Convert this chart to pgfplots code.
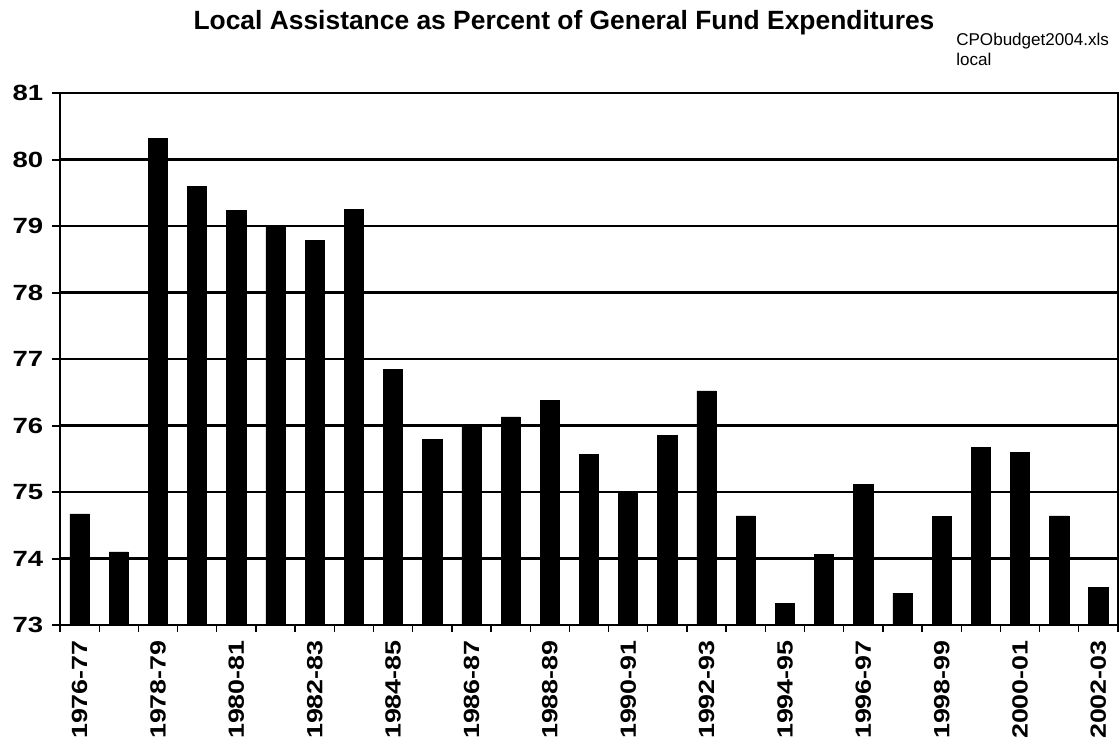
\documentclass[border=0pt]{standalone}
\usepackage{pgfplots}
\pgfplotsset{compat=1.18}
\usepackage{graphicx}
\usepackage{fontspec}
\setmainfont{Liberation Sans}
\pgfplotstableread{
x y
0 74.67
1 74.10
2 80.32
3 79.60
4 79.24
5 79.01
6 78.78
7 79.25
8 76.84
9 75.79
10 76.00
11 76.13
12 76.38
13 75.56
14 75.00
15 75.85
16 76.52
17 74.64
18 73.32
19 74.06
20 75.12
21 73.48
22 74.63
23 75.67
24 75.59
25 74.64
26 73.56
}\datatable
\newcommand{\xl}[1]{\scalebox{1.22}[1]{#1}}
\begin{document}
\begin{tikzpicture}
\useasboundingbox (-45pt,-91.5pt) rectangle (795pt,468.75pt);
\begin{axis}[
  at={(0pt,0pt)}, anchor=south west,
  scale only axis, width=793.5pt, height=399pt,
  xmin=-0.5, xmax=26.5, ymin=73, ymax=81,
  ytick={73,...,81},
  ymajorgrids, major grid style={black, line width=2pt},
  axis line style={black, line width=2pt},
  tick style={black, line width=1pt},
  tick align=outside,
  xtick={0,...,26},
  major x tick style={draw=none},
  minor xtick={-0.5,0.5,...,26.5},
  minor x tick style={black, line width=1pt},
  minor tick length=5pt,
  ytick style={black, line width=1.5pt},
  major tick length=6pt,
  xtick pos=bottom, ytick pos=left,
  xticklabels={\xl{1976-77},,\xl{1978-79},,\xl{1980-81},,\xl{1982-83},,\xl{1984-85},,\xl{1986-87},,\xl{1988-89},,\xl{1990-91},,\xl{1992-93},,\xl{1994-95},,\xl{1996-97},,\xl{1998-99},,\xl{2000-01},,\xl{2002-03}},
  xticklabel style={rotate=90, anchor=east, font=\fontsize{16.5}{16.5}\selectfont\bfseries, yshift=0pt, xshift=-2pt},
  yticklabel={\scalebox{1.25}[1]{\pgfmathprintnumber{\tick}}},
  yticklabel style={font=\fontsize{16.5}{16.5}\selectfont\bfseries, xshift=-3pt},
  /pgf/number format/assume math mode=true,
  ybar, bar width=0.49,
]
\addplot[fill=black, draw=black, line width=0.5pt] table[x=x,y=y] {\datatable};
\end{axis}
\node[font=\fontsize{19.8}{22}\selectfont\bfseries] at (378pt,452pt) {Local Assistance as Percent of General Fund Expenditures};
\node[anchor=north west, inner sep=0pt, align=left, font=\fontsize{12.8}{15}\selectfont] at (672pt,444pt) {CPObudget2004.xls\\local};
\end{tikzpicture}
\end{document}
